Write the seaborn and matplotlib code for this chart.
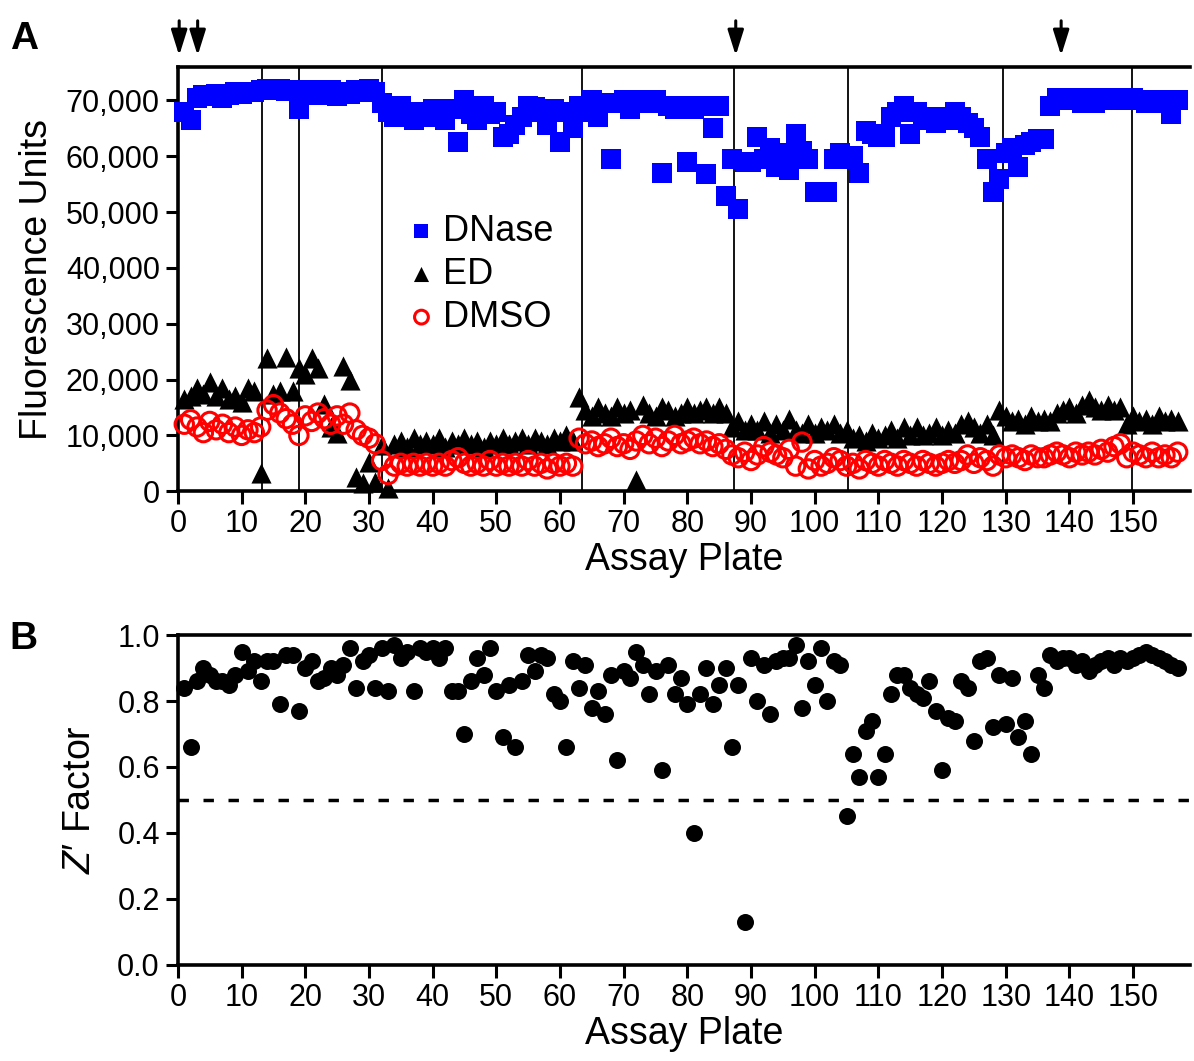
import numpy as np
import pandas as pd
import matplotlib
matplotlib.use("Agg")
import matplotlib.pyplot as plt
import seaborn as sns

# Per-plate control readings (panel A) and Z' factor (panel B)
plates = list(range(1, 158))

dnase = [68000, 66500, 70500, 71000, 70800, 71200, 70500, 71000, 71500, 71200,
         71500, 71500, 71800, 72000, 71800, 72000, 71700, 71900, 68500, 71500,
         71800, 71000, 71500, 71800, 70800, 71500, 71200, 71800, 71500, 72000,
         71500, 69500, 68000, 67000, 69000, 67500, 66500, 68000, 67000, 68500,
         67000, 66500, 68500, 62500, 70000, 67500, 66500, 69000, 67500, 68000,
         63500, 64000, 65500, 67000, 69000, 68800, 68000, 65500, 68500, 62500,
         68000, 65000, 69000, 68000, 70000, 67000, 69500, 59500, 69500, 70000,
         68500, 69500, 70000, 69500, 70000, 57000, 69000, 68500, 69000, 59000,
         68500, 69000, 56800, 65000, 69000, 52800, 59500, 50500, 59000, 59000,
         63500, 59500, 61500, 58000, 60500, 57500, 64000, 61000, 59500, 53500,
         53500, 53500, 59500, 60500, 59500, 60000, 57000, 64500, 64000, 63500,
         63500, 67000, 68000, 69000, 64000, 68000, 67000, 66500, 66000, 67000,
         66500, 68000, 67000, 66000, 65000, 63500, 59500, 53500, 56000, 60500,
         61500, 58000, 62000, 62500, 63000, 63000, 69000, 70500, 70500, 70000,
         70500, 69500, 70500, 69500, 70000, 70500, 70500, 70000, 70000, 70500,
         70000, 69500, 69500, 70000, 69500, 67500, 70000]

ed = [16500, 17000, 18500, 17500, 19500, 17000, 18500, 16500, 17000, 16000,
      18500, 18000, 3200, 23800, 17500, 18000, 24000, 18000, 22000, 21000,
      23800, 22000, 15700, 11500, 10400, 22500, 20000, 2500, 1400, 5200,
      1600, 8200, 500, 8500, 9000, 8000, 9500, 8500, 9000, 8500,
      9500, 8000, 9000, 8500, 9500, 8500, 9000, 8000, 9000, 8500,
      9500, 8500, 9000, 9500, 8500, 9500, 9000, 8500, 9500, 9000,
      10000, 9000, 16800, 14500, 13500, 15000, 14000, 13500, 15000, 14000,
      14500, 2000, 15500, 14000, 13500, 15000, 14500, 13500, 14000, 15000,
      14000, 14500, 15000, 14000, 15000, 14000, 11500, 12500, 11000, 12000,
      11000, 12500, 10500, 12000, 11000, 13000, 11000, 10500, 12000, 10500,
      11500, 11000, 12000, 10500, 11000, 9500, 10000, 9000, 10500, 9500,
      10000, 11000, 9500, 11500, 10000, 11500, 10000, 10500, 11500, 10000,
      11000, 10500, 12000, 12500, 11500, 10500, 12000, 10000, 14500, 13500,
      12500, 13000, 12000, 13500, 12500, 13000, 12500, 14000, 14500, 15000,
      14000, 15500, 16300, 15000, 14500, 15500, 14500, 15000, 12000, 13500,
      12500, 13000, 12000, 13500, 12500, 13000, 12500]

dmso = [12000, 12800, 11500, 10500, 12500, 11000, 12000, 10500, 11500, 10000,
        11000, 10500, 11500, 14500, 15500, 14000, 13000, 12000, 10000, 13500,
        12500, 14000, 13000, 12000, 13500, 12000, 14000, 11000, 10000, 9500,
        8500, 5500, 3000, 4500, 5000, 4500, 5000, 4500, 5000, 4500,
        5000, 4500, 5500, 6000, 5000, 4500, 5000, 4500, 5500, 4500,
        5000, 4500, 5000, 4500, 5500, 4500, 5000, 4000, 5000, 4500,
        5000, 4500, 9500, 8500, 9000, 8000, 8500, 9500, 8000, 8500,
        7500, 9000, 10000, 8500, 9500, 8000, 9000, 10000, 8500, 9000,
        9500, 8500, 9000, 8000, 8500, 7500, 6500, 6000, 7000, 5500,
        6500, 8000, 7000, 6500, 6000, 7500, 4500, 8800, 4000, 5500,
        4500, 5000, 6000, 5500, 4500, 5000, 4000, 5500, 5000, 4500,
        5500, 5000, 4500, 5500, 5000, 4500, 5500, 5000, 4500, 5000,
        5500, 5000, 5500, 6500, 5000, 6000, 5500, 4500, 6500, 6000,
        6500, 6000, 5500, 6500, 6000, 6000, 6500, 7000, 6500, 6000,
        7000, 6500, 7000, 6500, 7500, 7000, 8000, 8500, 6000, 7000,
        6500, 6000, 7000, 6000, 6500, 6000, 7000]

zprime = [0.84, 0.66, 0.86, 0.90, 0.88, 0.86, 0.86, 0.85, 0.88, 0.95,
          0.89, 0.92, 0.86, 0.92, 0.92, 0.79, 0.94, 0.94, 0.77, 0.90,
          0.92, 0.86, 0.87, 0.90, 0.88, 0.91, 0.96, 0.84, 0.92, 0.94,
          0.84, 0.96, 0.83, 0.97, 0.93, 0.95, 0.83, 0.96, 0.95, 0.96,
          0.93, 0.96, 0.83, 0.83, 0.70, 0.86, 0.93, 0.88, 0.96, 0.83,
          0.69, 0.85, 0.66, 0.86, 0.94, 0.89, 0.94, 0.93, 0.82, 0.80,
          0.66, 0.92, 0.84, 0.91, 0.78, 0.83, 0.76, 0.88, 0.62, 0.89,
          0.87, 0.95, 0.91, 0.82, 0.89, 0.59, 0.91, 0.82, 0.87, 0.79,
          0.40, 0.82, 0.90, 0.79, 0.85, 0.90, 0.66, 0.85, 0.13, 0.93,
          0.80, 0.91, 0.76, 0.92, 0.93, 0.93, 0.97, 0.78, 0.92, 0.85,
          0.96, 0.80, 0.92, 0.91, 0.45, 0.64, 0.57, 0.71, 0.74, 0.57,
          0.64, 0.82, 0.88, 0.88, 0.84, 0.82, 0.81, 0.86, 0.77, 0.59,
          0.75, 0.74, 0.86, 0.84, 0.68, 0.92, 0.93, 0.72, 0.88, 0.73,
          0.87, 0.69, 0.74, 0.64, 0.88, 0.84, 0.94, 0.92, 0.93, 0.93,
          0.91, 0.92, 0.89, 0.91, 0.92, 0.93, 0.91, 0.93, 0.92, 0.93,
          0.94, 0.95, 0.94, 0.93, 0.92, 0.91, 0.90]

# batch boundaries and arrow marks (plate positions)
batch_lines = [13.2, 19.0, 32.1, 63.4, 87.4, 105.3, 129.6, 149.8]
arrow_plates = [0.2, 3.1, 87.6, 138.7]

df = pd.DataFrame({"plate": plates, "DNase": dnase, "ED": ed, "DMSO": dmso, "Z": zprime})

sns.set_style("ticks")
plt.rcParams["font.family"] = ["Liberation Sans", "DejaVu Sans"]
plt.rcParams["mathtext.fontset"] = "custom"
plt.rcParams["mathtext.it"] = "Liberation Sans:italic"
plt.rcParams["mathtext.rm"] = "Liberation Sans"
plt.rcParams["text.color"] = "black"
plt.rcParams["axes.labelcolor"] = "black"

fig = plt.figure(figsize=(11.94, 10.61), dpi=100)
axA = fig.add_axes([0.149, 0.537, 0.848, 0.400])
axB = fig.add_axes([0.149, 0.0905, 0.848, 0.311])

# ---- Panel A
for xv in batch_lines:
    axA.axvline(xv, color="black", lw=1.3, zorder=1)

sns.scatterplot(data=df, x="plate", y="DNase", ax=axA, marker="s", s=190,
                color="#0000ff", edgecolor="#0000ff", linewidth=0, label="DNase",
                zorder=3, clip_on=False)
sns.scatterplot(data=df, x="plate", y="ED", ax=axA, marker="^", s=210,
                color="black", edgecolor="black", linewidth=0, label="ED",
                zorder=4, clip_on=False)
sns.scatterplot(data=df, x="plate", y="DMSO", ax=axA, marker="o", s=175,
                facecolors="none", edgecolor="#ff0000", linewidth=2.2, label="DMSO",
                zorder=5, clip_on=False)

axA.set_xlim(0, 159)
axA.set_ylim(0, 76000)
axA.set_xticks(range(0, 151, 10))
axA.set_yticks(range(0, 70001, 10000))
axA.set_yticklabels([f"{v:,}" for v in range(0, 70001, 10000)])
axA.set_xlabel("Assay Plate", fontsize=27, labelpad=2)
axA.set_ylabel("Fluorescence Units", fontsize=27, labelpad=8)

leg = axA.legend(loc="upper left", bbox_to_anchor=(0.212, 0.688), frameon=False,
                 fontsize=26, handlelength=0.8, handletextpad=0.2, labelspacing=0.22,
                 markerscale=0.75, borderaxespad=0)

for xv in arrow_plates:
    axA.annotate("", xy=(xv, 1.02), xycoords=("data", "axes fraction"),
                 xytext=(xv, 1.115), textcoords=("data", "axes fraction"),
                 arrowprops=dict(arrowstyle="-|>,head_width=0.22,head_length=0.7",
                                 color="black", lw=2.2, mutation_scale=22),
                 annotation_clip=False)

# ---- Panel B
axB.axhline(0.5, color="black", lw=2.5, ls=(0, (3, 4.2)), zorder=1)
sns.scatterplot(data=df, x="plate", y="Z", ax=axB, marker="o", s=150,
                color="black", edgecolor="black", linewidth=0, zorder=3, clip_on=False)
axB.set_xlim(0, 159)
axB.set_ylim(0, 1.0)
axB.set_xticks(range(0, 151, 10))
axB.set_yticks(np.arange(0, 1.01, 0.2))
axB.set_yticklabels([f"{v:.1f}" for v in np.arange(0, 1.01, 0.2)])
axB.set_xlabel("Assay Plate", fontsize=27, labelpad=2)
axB.set_ylabel("$\\mathit{Z}$\u2032 Factor", fontsize=27, labelpad=14)

for ax in (axA, axB):
    ax.spines["right"].set_visible(False)
    for side in ("left", "bottom", "top"):
        ax.spines[side].set_linewidth(2.6)
        ax.spines[side].set_color("black")
    ax.tick_params(axis="both", direction="out", length=9, width=2.2,
                   labelsize=22, colors="black", pad=4)

fig.text(0.008, 0.963, "A", fontsize=28, fontweight="bold", va="center")
fig.text(0.008, 0.398, "B", fontsize=28, fontweight="bold", va="center")

fig.savefig("out.png", dpi=100, facecolor="white")
